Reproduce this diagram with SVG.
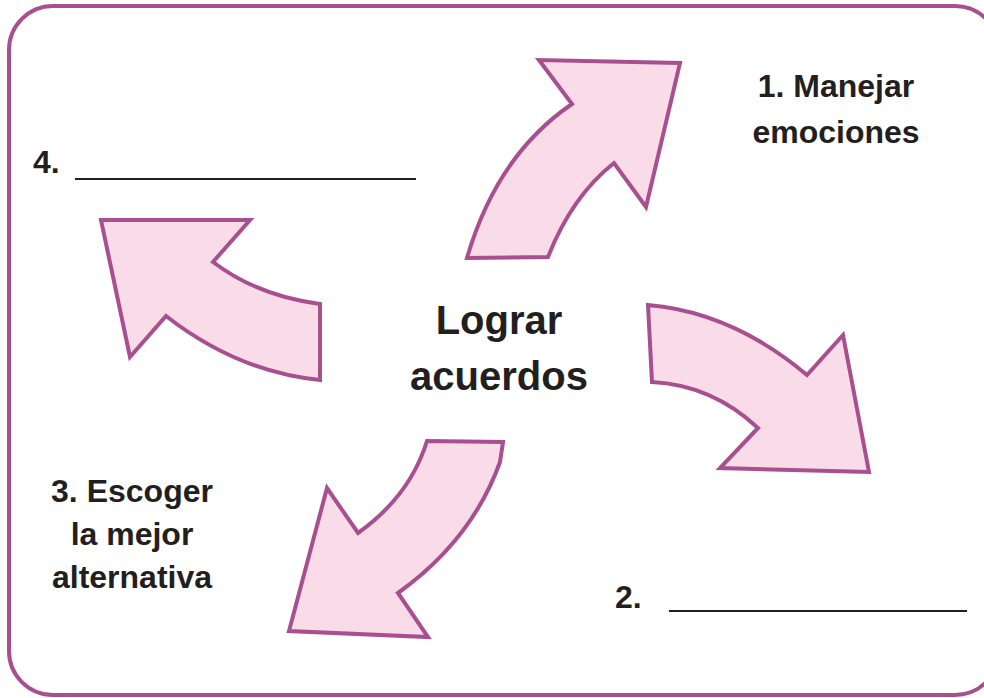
<svg xmlns="http://www.w3.org/2000/svg" width="984" height="698" viewBox="0 0 984 698">
<style>
.frame{fill:#ffffff;stroke:#a8508f;stroke-width:4}
.arrow{fill:#f9dce8;stroke:#a8508f;stroke-width:4;stroke-linejoin:miter}
.t{font-family:"Liberation Sans",Arial,sans-serif;font-weight:bold;fill:#231f20}
.s{font-size:32px}
.blank{stroke:#231f20;stroke-width:2}
</style>
<rect class="frame" x="9" y="6" width="990" height="689" rx="44" ry="44"/>
<g id="connectors">
<path id="arrow-top" class="arrow" d="M467,258 L548,257 Q572,196 614,163 L646,207 L680,63 L539,60 L572,104 Q497,155 467,258 Z"/>
<path id="arrow-right" class="arrow" d="M648,305 Q732,312 807,375 L843,335 L869,472 L720,468 L758,428 Q712,385 652,382 Z"/>
<path id="arrow-bottom" class="arrow" d="M427,441 L503,442 L500,462 Q472,540 398,593 L428,637 L289,631 L327,488 L358,533 Q410,496 427,441 Z"/>
<path id="arrow-left" class="arrow" d="M101,220 L250,220 L213,262 Q258,296 320,304 L320,380 Q238,372 166,316 L130,357 Z"/>
</g>
<g id="center">
<text class="t" x="499" y="334" font-size="40" text-anchor="middle">Lograr</text>
<text class="t" x="499" y="390" font-size="40" text-anchor="middle">acuerdos</text>
</g>
<g id="step1">
<text class="t s" x="836" y="97" text-anchor="middle">1. Manejar</text>
<text class="t s" x="836" y="143" text-anchor="middle">emociones</text>
</g>
<g id="step2">
<text class="t s" x="615" y="608">2.</text>
<line class="blank" x1="669" y1="611" x2="967" y2="611"/>
</g>
<g id="step3">
<text class="t s" x="132" y="502" text-anchor="middle">3. Escoger</text>
<text class="t s" x="132" y="545" text-anchor="middle">la mejor</text>
<text class="t s" x="132" y="588" text-anchor="middle">alternativa</text>
</g>
<g id="step4">
<text class="t s" x="33" y="173">4.</text>
<line class="blank" x1="75" y1="179" x2="416" y2="179"/>
</g>
</svg>
